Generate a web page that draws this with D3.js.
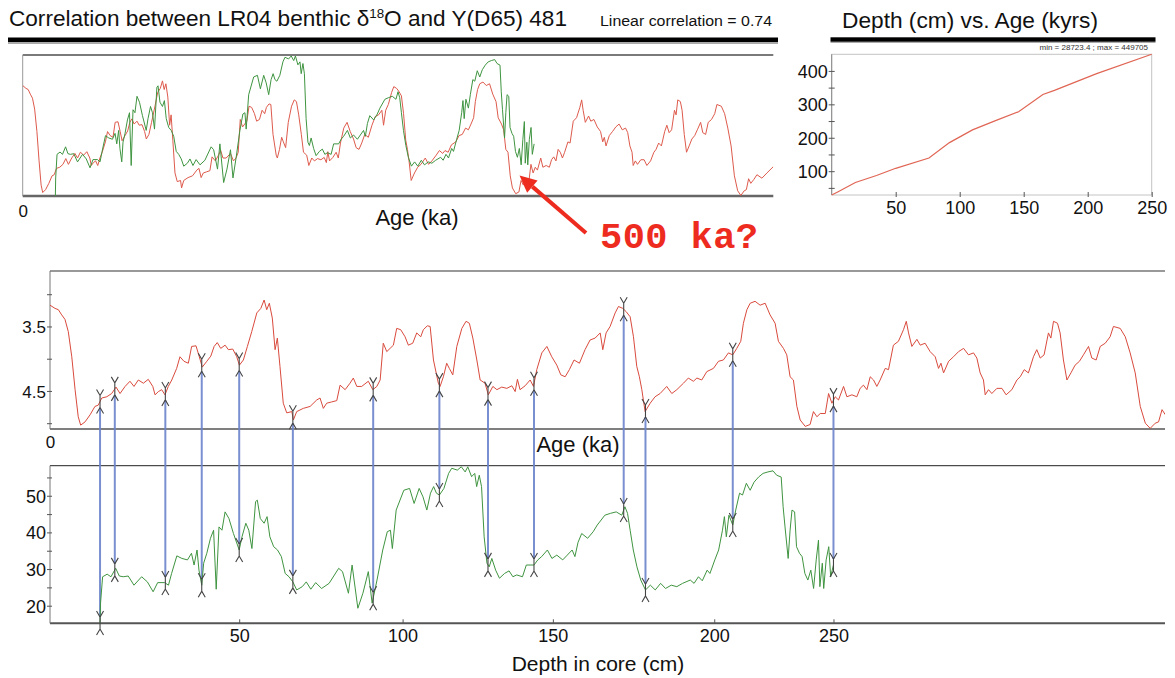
<!DOCTYPE html>
<html><head><meta charset="utf-8">
<script src="https://cdn.jsdelivr.net/npm/d3@7/dist/d3.min.js"></script>
<style>
body{margin:0;background:#fff}
svg{display:block}
text{font-family:"Liberation Sans",Arial,sans-serif;fill:#111}
</style>
</head><body>
<svg id="c" width="1175" height="678"></svg>
<script>
// ---------------- DATA ----------------
// LR04 benthic d18O stack (age in ka, d18O in per mil)
const redAge = [0,2.9,4.8,6.7,8.6,10.5,12.5,14.4,16.2,17.6,
20.1,23.0,25.8,27.7,29.7,32.6,35.4,37.9,40.2,43.1,
45.9,48.2,50.7,53.6,56.4,59.0,60.3,62.2,64.1,66.0,
67.9,69.9,72.7,74.6,76.9,79.4,81.3,83.8,85.7,87.4,
90.0,92.3,94.2,96.0,98.0,100.5,102.4,104.9,107.2,108.7,
111.0,113.3,115.8,118.7,121.0,122.9,124.4,125.9,127.6,129.2,
130.5,132.0,133.9,135.9,138.8,139.7,141.6,145.4,149.3,153.1,
155.0,156.9,158.8,161.7,164.6,166.5,169.4,172.2,174.1,176.1,
178.9,182.7,185.3,187.6,189.5,191.3,193.3,195.2,197.1,199.0,
201.3,203.8,205.7,208.2,210.5,212.8,214.3,216.6,218.2,220.1,
222.9,223.9,225.8,227.7,229.2,231.2,233.5,236.4,238.8,240.7,
242.7,245.0,246.9,249.7,251.6,254.2,256.5,259.3,262.2,265.1,
267.0,268.3,269.8,272.7,275.6,277.5,279.4,282.3,285.2,288.0,
290.9,293.2,295.7,298.1,300.8,303.9,307.1,310.0,312.9,315.8,
317.3,319.2,321.5,324.4,326.3,328.8,330.7,333.0,334.9,336.8,
338.3,339.7,341.6,344.5,347.3,350.2,354.0,356.9,359.8,363.6,
366.4,369.3,371.3,374.1,377.0,380.8,383.7,386.5,389.4,391.9,
394.2,396.5,398.0,400.0,401.9,404.7,407.6,410.5,413.3,416.2,
418.1,421.0,422.9,424.8,426.7,428.7,430.6,433.5,436.3,438.2,
440.2,442.1,445.0,446.9,448.8,450.7,452.6,455.5,457.4,460.3,
463.1,465.0,466.9,468.9,470.8,472.7,474.6,476.5,479.4,481.3,
484.1,487.0,489.9,491.5,492.8,494.7,497.6,499.5,502.3,505.2,
508.1,510.0,511.4,512.9,515.8,518.6,521.5,524.4,527.2,530.1,
532.0,533.9,535.8,536.8,538.7,540.6,543.5,546.4,548.8,552.1,
555.0,556.9,559.2,561.6,564.5,566.4,568.4,570.6,573.1,574.5,
576.0,578.3,579.8,581.7,583.7,586.0,588.4,590.9,593.2,596.1,
598.0,600.5,602.8,605.7,608.5,610.4,614.3,617.2,620.0,622.9,
625.8,628.7,631.5,634.4,636.3,638.3,640.2,643.0,645.6,650.0,
654.4,660.0];
const redD18O = [3.17,3.22,3.24,3.32,3.39,3.58,3.97,4.48,4.90,5.03,
4.98,4.87,4.74,4.72,4.61,4.59,4.54,4.44,4.54,4.43,
4.35,4.43,4.33,4.38,4.32,4.43,4.56,4.51,4.48,4.56,
4.43,4.33,4.15,3.97,4.04,4.07,3.81,3.80,3.97,4.13,
4.04,3.96,3.81,3.75,3.84,3.79,3.86,3.85,3.97,4.10,
4.02,3.81,3.58,3.29,3.22,3.09,3.24,3.14,3.37,3.86,
3.68,4.12,4.69,4.84,4.82,4.95,4.82,4.77,4.74,4.64,
4.61,4.77,4.69,4.67,4.65,4.41,4.48,4.38,4.30,4.43,
4.43,4.35,4.48,4.43,4.33,3.76,3.89,3.84,3.79,3.53,
3.55,3.66,3.79,3.76,3.60,3.66,3.55,3.49,3.50,4.02,
4.38,4.43,4.28,4.07,4.15,4.25,3.81,3.53,3.42,3.45,
3.68,4.02,4.33,4.38,4.56,4.43,4.48,4.44,4.46,4.42,
4.51,4.32,4.48,4.42,4.33,4.43,4.17,3.91,3.81,3.97,
4.10,4.25,4.28,4.17,4.02,4.07,3.86,3.71,3.68,3.60,
3.86,3.60,3.50,3.29,3.19,3.22,3.27,3.35,3.66,4.12,
4.28,4.48,4.82,4.69,4.59,4.54,4.43,4.54,4.48,4.38,
4.30,4.35,4.30,4.33,4.20,4.15,4.04,4.02,3.91,3.94,
3.84,3.73,3.45,3.24,3.14,3.11,3.17,3.14,3.32,3.45,
3.73,3.84,3.94,4.28,4.33,4.74,4.95,5.05,5.02,4.82,
4.90,4.85,4.85,4.54,4.69,4.59,4.64,4.43,4.59,4.56,
4.59,4.46,4.41,4.48,4.28,4.33,4.43,4.33,4.15,4.17,
3.79,3.73,3.55,3.42,3.60,3.81,3.70,3.79,3.76,3.89,
3.97,4.15,4.07,4.22,4.04,3.97,3.89,3.84,3.94,3.91,
3.99,4.22,4.33,4.56,4.48,4.54,4.46,4.46,4.56,4.48,
4.33,4.28,4.17,4.22,3.97,3.86,3.99,3.94,3.60,3.68,
3.42,3.45,3.60,4.02,4.33,4.22,4.10,4.04,3.94,3.81,
3.99,4.02,3.81,3.76,3.66,3.50,3.53,3.66,3.91,4.22,
4.74,5.00,5.08,5.00,4.98,4.79,4.87,4.80,4.72,4.78,
4.69,4.58];

// Y(D65) 481 record, on the tuned age scale (ka)
const greenAge = [28.72,29.0,30.2,32.8,35.0,37.7,39.8,42.0,44.9,48.2,
52.6,55.9,59.2,61.8,65.8,68.0,69.8,72.8,75.7,78.9,
81.2,82.7,84.4,85.5,87.1,88.2,90.0,92.1,93.9,95.4,
97.0,98.7,100.5,102.7,105.3,108.6,110.2,112.4,114.1,115.9,
118.0,119.0,120.7,122.9,124.6,126.2,128.4,130.6,132.8,135.0,
137.2,139.4,141.6,144.8,147.1,149.7,152.5,155.9,160.2,165.7,
167.9,171.3,173.4,176.7,179.6,182.7,184.9,187.7,191.0,193.6,
195.4,196.5,198.7,203.1,206.4,209.0,211.9,214.1,216.3,218.4,
220.2,221.8,223.5,226.1,228.8,230.6,233.8,236.1,238.3,239.8,
242.0,243.8,244.9,246.4,247.7,249.2,250.8,252.1,253.6,255.8,
258.0,260.9,263.5,265.7,267.9,271.2,273.4,277.8,280.0,282.2,
285.5,288.1,290.9,294.3,296.9,299.7,301.3,303.1,305.2,308.6,
311.8,314.1,318.5,321.7,325.0,328.2,330.0,331.5,333.0,334.8,
336.9,339.1,341.8,344.6,347.4,350.5,353.3,356.6,359.8,363.1,
367.5,369.7,372.2,374.4,377.2,378.8,381.6,383.8,386.0,387.1,
388.2,389.7,391.9,393.6,395.8,397.5,399.7,401.9,404.1,406.7,
409.3,412.1,415.0,417.1,419.7,420.8,421.9,423.7,424.8,425.9,
427.4,428.5,430.2,431.7,433.3,435.0,436.7,438.3,439.8,441.1,
441.9,443.3,444.1,445.5,447.0,448.1,449.7];
const greenY = [15.2,20.7,27.9,28.6,27.9,30.2,28.1,27.9,28.1,25.6,
27.9,26.5,23.8,26.3,26.3,25.6,28.8,33.6,32.9,32.5,
34.3,31.1,35.2,29.7,25.6,31.6,34.3,38.4,40.6,24.5,
41.5,40.6,45.6,43.8,39.7,35.2,38.8,42.5,40.6,35.6,
48.4,48.8,43.8,42.5,44.3,38.8,36.1,35.2,33.4,28.8,
27.9,26.5,24.3,25.2,26.5,24.5,26.3,24.7,26.1,30.2,
29.3,23.4,31.1,19.3,23.4,29.3,20.7,27.0,35.2,40.2,
40.6,35.6,46.1,51.5,52.0,47.9,52.0,49.7,46.1,50.7,
52.5,50.7,50.2,52.0,56.1,57.5,57.0,57.9,56.5,57.9,
55.2,56.1,52.5,55.6,52.5,38.8,31.6,30.6,32.9,29.7,
27.5,28.8,29.5,27.9,28.4,27.9,31.1,31.1,32.5,33.4,
35.2,32.9,33.8,32.5,33.8,35.2,33.4,37.3,39.7,38.4,
40.2,42.0,44.7,45.2,45.6,44.7,47.0,45.2,40.6,35.2,
30.6,27.0,24.3,25.6,24.3,26.1,24.7,25.6,25.2,26.1,
27.0,26.1,27.9,26.8,29.7,28.8,32.5,35.2,40.6,44.3,
38.8,44.7,42.0,46.1,50.7,50.2,53.4,51.5,53.7,55.1,
56.1,56.5,56.8,55.6,55.1,47.0,41.5,32.9,40.6,46.1,
45.6,36.1,34.3,33.4,28.8,27.0,29.7,24.7,32.5,37.9,
25.2,31.6,24.7,32.5,36.1,27.9,31.1];

// Tie points of the age model (depth in cm, age in ka)
const tieDepth = [0, 4.3, 18.5, 35, 50, 76, 92, 110, 128, 146, 165, 174, 207, 250];
const tieAge   = [28.7234, 37.2, 66.2, 87.1, 108.6, 139.4, 185.5, 223.5, 251.4, 277.8, 329.3, 341.8, 391.9, 449.705];

const depthTicks = [50, 100, 150, 200, 250];
const adDepthTicks = [50, 100, 150, 200, 250];
const adAgeTicks = [50, 100, 150, 200, 250, 300, 350, 400];
const adAgeLabels = [100, 200, 300, 400];
const midTicks = [3.0, 3.5, 4.0, 4.5, 5.0];
const midLabels = [3.5, 4.5];
const botTicks = [20, 25, 30, 35, 40, 45, 50, 55];
const botLabels = [20, 30, 40, 50];

// ---------------- SCALES ----------------
const svg = d3.select('#c');
const RED = '#d94a3d', GREEN = '#3f9440', BLUE = '#6a83cb';

const xTop = d3.scaleLinear([0, 660], [22.7, 773.3]);
const yTopRed = d3.scaleLinear([2.64, 5.09], [55, 196]);
const yTopGreen = d3.scaleLinear([15.2, 58.2], [196, 55]);

const xMid = d3.scaleLinear([0, 640], [50, 1165]);
const yMid = d3.scaleLinear([2.64, 5.09], [271, 429]);

const ageToDepth = d3.scaleLinear(tieAge, tieDepth);
const xBot = d3.scaleLinear(tieDepth, tieAge.map(a => xMid(a))); // depth -> px (through age model)
const yBot = d3.scaleLinear([15.2, 58.2], [623.3, 465.7]);

const xAD = d3.scaleLinear([0, 250], [831.7, 1151.7]);
const yAD = d3.scaleLinear([d3.min(tieAge), d3.max(tieAge)], [195, 54.3]);

const red = redAge.map((a, i) => [a, redD18O[i]]);
const green = greenAge.map((a, i) => [a, greenY[i]]);

function interp(xs, ys, x) {
  const i = d3.bisectLeft(xs, x);
  if (i <= 0) return ys[0];
  if (i >= xs.length) return ys[ys.length - 1];
  const t = (x - xs[i - 1]) / (xs[i] - xs[i - 1]);
  return ys[i - 1] + t * (ys[i] - ys[i - 1]);
}

const defs = svg.append('defs');
defs.append('clipPath').attr('id', 'clipTop').append('rect')
  .attr('x', xTop.range()[0]).attr('y', 50).attr('width', xTop.range()[1] - xTop.range()[0]).attr('height', 150);
defs.append('clipPath').attr('id', 'clipMid').append('rect')
  .attr('x', xMid.range()[0]).attr('y', 268).attr('width', xMid.range()[1] - xMid.range()[0]).attr('height', 164);

// ---------------- TOP-LEFT ----------------
const t1 = svg.append('text').attr('x', 9).attr('y', 26).attr('font-size', 22)
  .attr('textLength', 558).attr('lengthAdjust', 'spacingAndGlyphs');
t1.append('tspan').text('Correlation between LR04 benthic δ');
t1.append('tspan').attr('font-size', 13).attr('dy', -8).text('18');
t1.append('tspan').attr('dy', 8).text('O and Y(D65) 481');
svg.append('text').attr('x', 600).attr('y', 26).attr('font-size', 14)
  .attr('textLength', 172).attr('lengthAdjust', 'spacingAndGlyphs').text('Linear correlation = 0.74');
svg.append('rect').attr('x', 8).attr('y', 42).attr('width', 770).attr('height', 2).attr('fill', '#aaa');
svg.append('rect').attr('x', 8).attr('y', 37.5).attr('width', 770).attr('height', 4.5).attr('fill', '#000');

const topG = svg.append('g');
topG.append('line').attr('x1', 22.7).attr('x2', 773.3).attr('y1', 55).attr('y2', 55).attr('stroke', '#7a7a7a').attr('stroke-width', 2);
topG.append('line').attr('x1', 22.7).attr('x2', 773.3).attr('y1', 196).attr('y2', 196).attr('stroke', '#666').attr('stroke-width', 2.5);
topG.append('line').attr('x1', 22.7).attr('x2', 22.7).attr('y1', 55).attr('y2', 196).attr('stroke', '#999').attr('stroke-width', 1);

const clipT = topG.append('g').attr('clip-path', 'url(#clipTop)');
clipT.append('path').datum(red)
  .attr('d', d3.line().x(d => xTop(d[0])).y(d => yTopRed(d[1])))
  .attr('fill', 'none').attr('stroke', '#dd5a4c').attr('stroke-width', 1);
clipT.append('path').datum(green)
  .attr('d', d3.line().x(d => xTop(d[0])).y(d => yTopGreen(d[1])))
  .attr('fill', 'none').attr('stroke', GREEN).attr('stroke-width', 1);

svg.append('g').attr('transform', 'translate(0,196)')
  .call(d3.axisBottom(xTop).tickValues([0]).tickSize(0).tickPadding(0))
  .call(g => g.select('.domain').remove())
  .call(g => g.selectAll('text').attr('y', 21).attr('dy', 0).attr('font-size', 17).attr('fill', '#111')
        .style('font-family', '"Liberation Sans",Arial,sans-serif'));
svg.append('text').attr('x', 417).attr('y', 225).attr('text-anchor', 'middle').attr('font-size', 22).text('Age (ka)');

// annotation
const tail = [586, 233], tip = [519.5, 175.5];
const ang = Math.atan2(tip[1] - tail[1], tip[0] - tail[0]);
const hl = 17, hw = 8;
const bx = tip[0] - hl * Math.cos(ang), by = tip[1] - hl * Math.sin(ang);
svg.append('line').attr('x1', tail[0]).attr('y1', tail[1]).attr('x2', bx).attr('y2', by)
  .attr('stroke', '#ee2b1f').attr('stroke-width', 4);
svg.append('path').attr('d', `M${tip[0]},${tip[1]} L${bx + hw * Math.sin(ang)},${by - hw * Math.cos(ang)} L${bx - hw * Math.sin(ang)},${by + hw * Math.cos(ang)} Z`)
  .attr('fill', '#ee2b1f');
svg.append('text').attr('x', 600).attr('y', 248).attr('font-size', 37).attr('font-weight', 'bold')
  .style('font-family', '"Liberation Mono","Courier New",monospace').style('fill', '#ee2b1f')
  .attr('textLength', 158).text('500 ka?');

// ---------------- TOP-RIGHT (age model) ----------------
svg.append('text').attr('x', 842).attr('y', 27.5).attr('font-size', 22)
  .attr('textLength', 256).attr('lengthAdjust', 'spacingAndGlyphs').text('Depth (cm) vs. Age (kyrs)');
svg.append('rect').attr('x', 830.5).attr('y', 41.5).attr('width', 325).attr('height', 1.5).attr('fill', '#aaa');
svg.append('rect').attr('x', 830.5).attr('y', 37.3).attr('width', 325).attr('height', 4.4).attr('fill', '#000');
const fmt = d3.format('.6~g');
svg.append('text').attr('x', 1148).attr('y', 50).attr('text-anchor', 'end').attr('font-size', 8).style('fill', '#333')
  .text(`min = ${fmt(d3.min(tieAge) * 1000)} ; max = ${fmt(d3.max(tieAge) * 1000)}`);
svg.append('rect').attr('x', xAD.range()[0]).attr('y', yAD.range()[1])
  .attr('width', xAD.range()[1] - xAD.range()[0]).attr('height', yAD.range()[0] - yAD.range()[1])
  .attr('fill', 'none').attr('stroke', '#c4c4c4').attr('stroke-width', 1);
svg.append('line').attr('x1', xAD.range()[0]).attr('x2', xAD.range()[0]).attr('y1', yAD.range()[1]).attr('y2', yAD.range()[0])
  .attr('stroke', '#888').attr('stroke-width', 1);
svg.append('path').datum(d3.zip(tieDepth, tieAge))
  .attr('d', d3.line().x(d => xAD(d[0])).y(d => yAD(d[1])))
  .attr('fill', 'none').attr('stroke', '#e06554').attr('stroke-width', 1.2);
svg.append('g').attr('transform', `translate(${xAD.range()[0]},0)`)
  .call(d3.axisLeft(yAD).tickValues(adAgeTicks).tickFormat(d => adAgeLabels.includes(d) ? d : ''))
  .call(g => g.select('.domain').remove())
  .call(g => g.selectAll('.tick line').attr('x1', 3).attr('x2', -3).attr('stroke', '#555'))
  .call(g => g.selectAll('text').attr('x', -4).attr('dy', '0.36em').attr('font-size', 18).attr('fill', '#111')
        .style('font-family', '"Liberation Sans",Arial,sans-serif'));
svg.append('g').attr('transform', `translate(0,${yAD.range()[0]})`)
  .call(d3.axisBottom(xAD).tickValues(adDepthTicks))
  .call(g => g.select('.domain').remove())
  .call(g => g.selectAll('.tick line').attr('y1', -3).attr('y2', 2).attr('stroke', '#555'))
  .call(g => g.selectAll('text').attr('y', 19).attr('dy', 0).attr('font-size', 18).attr('fill', '#111')
        .style('font-family', '"Liberation Sans",Arial,sans-serif'));

// ---------------- MIDDLE (LR04 vs age) ----------------
svg.append('line').attr('x1', 50).attr('x2', 1165).attr('y1', 271).attr('y2', 271).attr('stroke', '#777').attr('stroke-width', 1.5);
svg.append('line').attr('x1', 50).attr('x2', 1165).attr('y1', 429).attr('y2', 429).attr('stroke', '#555').attr('stroke-width', 1.5);
svg.append('line').attr('x1', 50).attr('x2', 50).attr('y1', 271).attr('y2', 429).attr('stroke', '#777').attr('stroke-width', 1);
svg.append('g').attr('transform', 'translate(50,0)')
  .call(d3.axisLeft(yMid).tickValues(midTicks).tickFormat(d => midLabels.includes(d) ? d3.format('.1f')(d) : ''))
  .call(g => g.select('.domain').remove())
  .call(g => g.selectAll('.tick line').attr('x1', 2).attr('x2', -3).attr('stroke', '#555'))
  .call(g => g.selectAll('text').attr('x', -4).attr('dy', '0.36em').attr('font-size', 17).attr('fill', '#111')
        .style('font-family', '"Liberation Sans",Arial,sans-serif'));
svg.append('g').attr('transform', 'translate(0,429)')
  .call(d3.axisBottom(xMid).tickValues([0]).tickSize(0))
  .call(g => g.select('.domain').remove())
  .call(g => g.selectAll('text').attr('y', 19).attr('dy', 0).attr('font-size', 17).attr('fill', '#111')
        .style('font-family', '"Liberation Sans",Arial,sans-serif'));
svg.append('text').attr('x', 578).attr('y', 452).attr('text-anchor', 'middle').attr('font-size', 22).text('Age (ka)');

// ---------------- BOTTOM (Y(D65) vs depth) ----------------
svg.append('line').attr('x1', 50).attr('x2', 1165).attr('y1', 465.7).attr('y2', 465.7).attr('stroke', '#222').attr('stroke-width', 1);
svg.append('line').attr('x1', 50).attr('x2', 1165).attr('y1', 623.3).attr('y2', 623.3).attr('stroke', '#555').attr('stroke-width', 2);
svg.append('line').attr('x1', 50).attr('x2', 50).attr('y1', 465.7).attr('y2', 623.3).attr('stroke', '#777').attr('stroke-width', 1);
svg.append('g').attr('transform', 'translate(50,0)')
  .call(d3.axisLeft(yBot).tickValues(botTicks).tickFormat(d => botLabels.includes(d) ? d : ''))
  .call(g => g.select('.domain').remove())
  .call(g => g.selectAll('.tick line').attr('x1', 2).attr('x2', -3).attr('stroke', '#555'))
  .call(g => g.selectAll('text').attr('x', -4).attr('dy', '0.36em').attr('font-size', 18).attr('fill', '#111')
        .style('font-family', '"Liberation Sans",Arial,sans-serif'));
svg.append('g').attr('transform', 'translate(0,623.3)')
  .call(d3.axisBottom(xBot).tickValues(depthTicks))
  .call(g => g.select('.domain').remove())
  .call(g => g.selectAll('.tick line').attr('y1', -4).attr('y2', 0).attr('stroke', '#555'))
  .call(g => g.selectAll('text').attr('y', 19).attr('dy', 0).attr('font-size', 18).attr('fill', '#111')
        .style('font-family', '"Liberation Sans",Arial,sans-serif'));
svg.append('text').attr('x', 598).attr('y', 671).attr('text-anchor', 'middle').attr('font-size', 21).text('Depth in core (cm)');

// ---------------- TIE LINES ----------------
const ties = tieAge.map((a, i) => {
  const x = xBot(tieDepth[i]);
  return {x, yr: yMid(interp(redAge, redD18O, a)), yg: yBot(interp(greenAge, greenY, a))};
});
svg.append('g').selectAll('line').data(ties).join('line')
  .attr('x1', d => d.x).attr('x2', d => d.x)
  .attr('y1', d => d.yr + 6).attr('y2', d => d.yg - 6)
  .attr('stroke', BLUE).attr('stroke-width', 2).attr('stroke-opacity', 0.9);

// curves
svg.append('g').attr('clip-path', 'url(#clipMid)').append('path').datum(red)
  .attr('d', d3.line().x(d => xMid(d[0])).y(d => yMid(d[1])))
  .attr('fill', 'none').attr('stroke', RED).attr('stroke-width', 1);
svg.append('path').datum(green)
  .attr('d', d3.line().x(d => xBot(ageToDepth(d[0]))).y(d => yBot(d[1])))
  .attr('fill', 'none').attr('stroke', GREEN).attr('stroke-width', 1);

// markers
const glyph = (x, y) => `M${x - 3.5},${y - 12}L${x},${y - 6}L${x + 3.5},${y - 12}M${x},${y - 6}L${x},${y + 6}M${x - 3.5},${y + 12}L${x},${y + 6}L${x + 3.5},${y + 12}`;
const mk = svg.append('g').attr('fill', 'none').attr('stroke', '#444').attr('stroke-width', 1.1);
mk.selectAll('path.r').data(ties).join('path').attr('class', 'r').attr('d', d => glyph(d.x, d.yr));
mk.selectAll('path.g').data(ties).join('path').attr('class', 'g').attr('d', d => glyph(d.x, d.yg));
</script>
</body></html>
